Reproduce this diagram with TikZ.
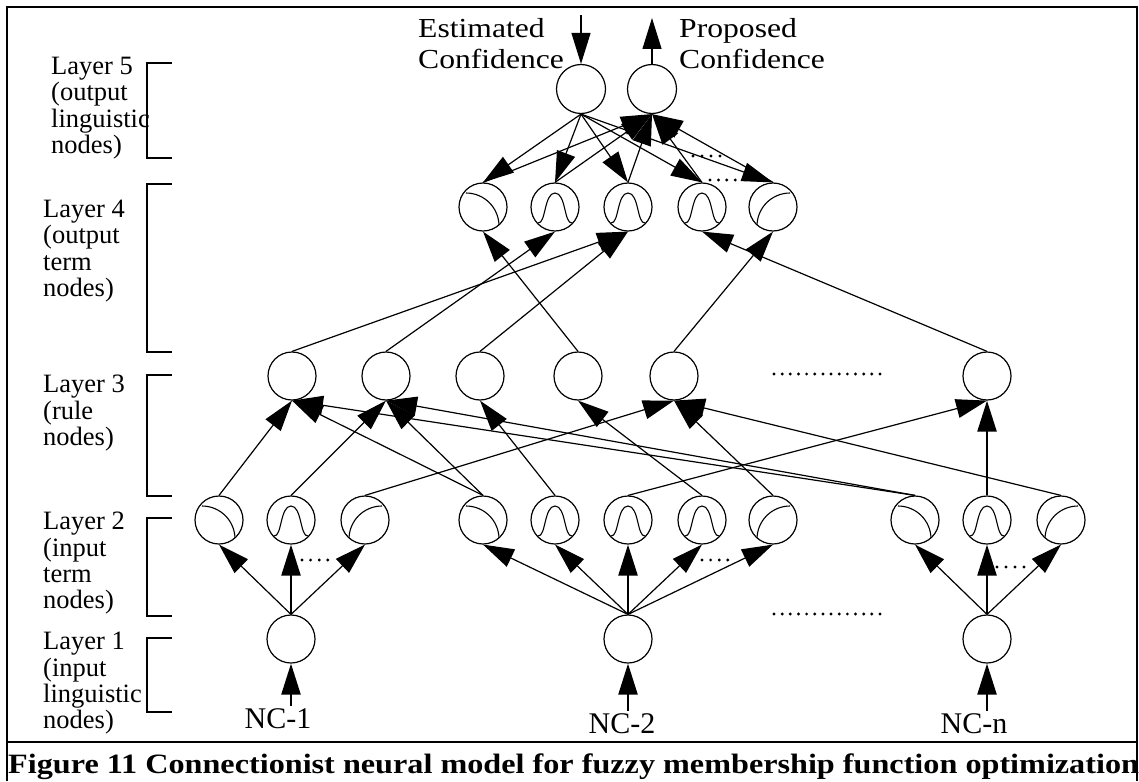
\documentclass[tikz,border=0pt]{standalone}
\usepackage{fontspec}
\setmainfont{Liberation Serif}
\newfontfamily\widefont[FakeStretch=1.15]{Liberation Serif}
\usetikzlibrary{arrows.meta}
\tikzset{
	>={Triangle[length=31pt,width=19pt]},
	neuron/.style={draw, circle, minimum size=48pt, inner sep=0pt, line width=1.2pt},
	zmf/.style={neuron, path picture={
			\draw[line width=1.1pt, shift={(path picture bounding box.center)}]
				(-17,-14) arc[start angle=-90, end angle=0, radius=33];}},
	smf/.style={neuron, path picture={
			\draw[line width=1.1pt, shift={(path picture bounding box.center)}]
				(17,-14) arc[start angle=-90, end angle=-180, radius=33];}},
	bell/.style={neuron, path picture={
			\draw[line width=1.1pt, shift={(path picture bounding box.center)}]
				(-17,16) .. controls (-9,17) and (-11,-14) .. (0,-14)
				.. controls (11,-14) and (9,17) .. (17,16);}},
	link/.style={->, line width=1.2pt},
	uplink/.style={->, line width=2.4pt},
	bracket/.style={line width=2pt},
	boxline/.style={line width=2.4pt},
	layerlabel/.style={anchor=north west, align=left, inner sep=0pt,
			font=\fontsize{26.5}{26.3}\selectfont},
	toplabel/.style={anchor=north west, align=left, inner sep=0pt,
			font=\widefont\fontsize{27.5}{31}\selectfont},
	nclabel/.style={anchor=base, inner sep=0pt, font=\fontsize{30}{32}\selectfont}
}

\begin{document}
\begin{tikzpicture}[x=1pt, y=-1pt]
		\useasboundingbox (0,0) rectangle (1139,781);

		\draw[boxline]	(7,781) to (7,7) to (1137,7) to (1137,781);
		\draw[boxline]	(7,742) to (1137,742);
		\node[anchor=base west, inner sep=0pt, font=\widefont\bfseries\fontsize{28}{30}\selectfont] (caption) at (8,773)
			{Figure 11 Connectionist neural model for fuzzy membership function optimization};

		\node[layerlabel] (lab5) at (51,57) {Layer 5\\(output\\linguistic\\nodes)};
		\node[layerlabel] (lab4) at (43,200) {Layer 4\\(output\\term\\nodes)};
		\node[layerlabel] (lab3) at (43,375) {Layer 3\\(rule\\nodes)};
		\node[layerlabel] (lab2) at (43,512) {Layer 2\\(input\\term\\nodes)};
		\node[layerlabel] (lab1) at (43,632) {Layer 1\\(input\\linguistic\\nodes)};

		\foreach \top/\bot in {63/158, 184/352, 375/496, 518/616, 638/712} {
			\draw[bracket]	(172,\top) -| (147,\bot) to (172,\bot);
		}

		\node[toplabel] (esttext) at (418,18) {Estimated\\Confidence};
		\node[toplabel] (proptext) at (679,18) {Proposed\\Confidence};

		\node[neuron, minimum size=49pt] (est) at (581,89) {};
		\node[neuron, minimum size=49pt] (prop) at (652,89) {};
		\coordinate (estin) at (581,15);
		\coordinate (propout) at (652,18);

		\node[zmf] (o1) at (483,207) {};
		\node[bell] (o2) at (555,207) {};
		\node[bell] (o3) at (628,207) {};
		\node[bell] (o4) at (702,207) {};
		\node[smf] (o5) at (773,207) {};

		\foreach \n/\x in {1/292, 2/386, 3/480, 4/578, 5/674, 6/987} {
			\node[neuron] (r\n) at (\x,376) {};
		}

		\node[zmf] (a1) at (219,520) {};
		\node[bell] (a2) at (291,520) {};
		\node[smf] (a3) at (365,520) {};
		\node[zmf] (b1) at (483,520) {};
		\node[bell] (b2) at (555,520) {};
		\node[bell] (b3) at (628,520) {};
		\node[bell] (b4) at (702,520) {};
		\node[smf] (b5) at (773,520) {};
		\node[zmf] (c1) at (915,520) {};
		\node[bell] (c2) at (987,520) {};
		\node[smf] (c3) at (1061,520) {};

		\node[neuron] (in1) at (291,639) {};
		\node[neuron] (in2) at (628,639) {};
		\node[neuron] (in3) at (987,639) {};

		\node[nclabel] (nc1) at (278,728) {NC-1};
		\node[nclabel] (nc2) at (622,733) {NC-2};
		\node[nclabel] (nc3) at (974,733) {NC-n};

		\draw[link]	(estin) to (est.north);
		\draw[link]	(prop.north) to (propout);
		\foreach \i in {1,...,5} {
			\draw[link]	(est.south) to (o\i.north);
			\draw[link]	(o\i.north) to (prop.south);
		}

		\foreach \r/\o in {1/3, 2/2, 3/3, 4/1, 5/5, 6/4} {
			\draw[link]	(r\r.north) to (o\o.south);
		}

		\foreach \a/\r in {a1/1, b1/1, c1/1, a2/2, b1/2, c1/2, b2/3, b4/4, a3/5, b5/5, c3/5, b3/6} {
			\draw[link]	(\a.north) to (r\r.south);
		}
		\draw[uplink]	(c2.north) to (r6.south);

		\foreach \a in {a1, a3} \draw[link] (in1.north) to (\a.south);
		\draw[uplink]	(in1.north) to (a2.south);
		\foreach \b in {b1, b2, b4, b5} \draw[link] (in2.north) to (\b.south);
		\draw[uplink]	(in2.north) to (b3.south);
		\foreach \c in {c1, c3} \draw[link] (in3.north) to (\c.south);
		\draw[uplink]	(in3.north) to (c2.south);

		\draw[uplink]	([yshift=2pt]nc1.north -| in1) to (in1.south);
		\draw[uplink]	([yshift=2pt]nc2.north -| in2) to (in2.south);
		\draw[uplink]	([yshift=2pt]nc3.north -| in3) to (in3.south);

		\foreach \k in {0,...,3} {
			\fill	(302+8.6*\k,560) circle (1.6);
			\fill	(702+8.6*\k,560) circle (1.6);
			\fill	(997+9*\k,567) circle (1.6);
			\fill	(693+9*\k,156) circle (1.6);
			\fill	(710+8.4*\k,180) circle (1.6);
		}
		\foreach \k in {0,...,13} {
			\fill	(774+8.15*\k,374) circle (1.6);
			\fill	(774+8.15*\k,614) circle (1.6);
		}
	\end{tikzpicture}
\end{document}
